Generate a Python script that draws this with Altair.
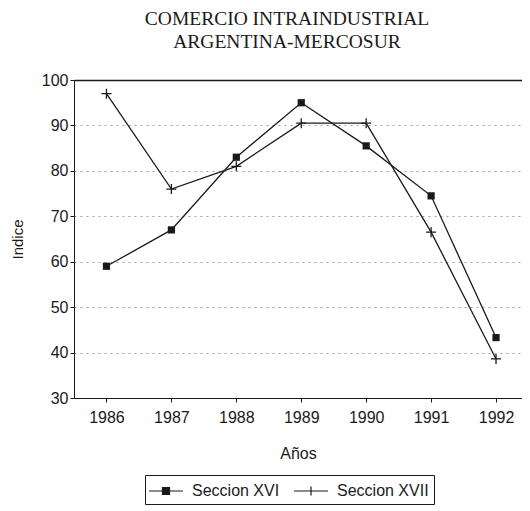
import altair as alt
import pandas as pd

years = [1986, 1987, 1988, 1989, 1990, 1991, 1992]
seccion_xvi = [59, 67, 83, 95, 85.5, 74.5, 43.3]
seccion_xvii = [97, 76, 81, 90.5, 90.5, 66.5, 38.6]
series_names = ["Seccion XVI", "Seccion XVII"]
y_ticks = [30, 40, 50, 60, 70, 80, 90, 100]

rows = []
for name, vals in zip(series_names, [seccion_xvi, seccion_xvii]):
    for yr, v in zip(years, vals):
        rows.append({"anio": yr, "indice": v, "serie": name})
df = pd.DataFrame(rows)

INK = "#1a1a1a"
SQUARE = "M-1,-1H1V1H-1Z"
PLUS = "M-1,0H1M0,-1V1"
HATCH = "".join(f"M-0.35,{v:.2f}H0.35" for v in [-0.3, -0.2, -0.1, 0.0, 0.1, 0.2, 0.3])
LEG_SQUARE = "M-1.7,0H1.7M-0.35,-0.35H0.35V0.35H-0.35Z" + HATCH
LEG_PLUS = "M-1.7,0H1.7M0,-0.45V0.45"

x = alt.X("anio:Q", title="Años",
          scale=alt.Scale(domain=[1985.5, 1992.4], nice=False, zero=False),
          axis=alt.Axis(values=years, format="d", grid=False, tickSize=4,
                        tickColor=INK, domainColor=INK, labelColor=INK,
                        titleColor=INK, labelFont="Liberation Sans",
                        titleFont="Liberation Sans", labelFontSize=16,
                        titleFontSize=16, titleFontWeight="normal",
                        labelPadding=7, titlePadding=20))
y = alt.Y("indice:Q", title="Indice",
          scale=alt.Scale(domain=[30, 100], nice=False, zero=False),
          axis=alt.Axis(values=y_ticks, grid=True, tickSize=4,
                        gridColor={"condition": {"test": "datum.value === 100", "value": INK}, "value": "#888888"},
                        gridDash={"condition": {"test": "datum.value === 100", "value": []}, "value": [2, 4]},
                        gridWidth={"condition": {"test": "datum.value === 100", "value": 1.4}, "value": 0.8},
                        tickColor=INK, domainColor=INK, labelColor=INK,
                        titleColor=INK, labelFont="Liberation Sans",
                        titleFont="Liberation Sans", labelFontSize=16,
                        titleFontSize=15, titleFontWeight="normal",
                        labelPadding=2, titlePadding=16))

base = alt.Chart(df)

lines = base.mark_line(color=INK, strokeWidth=1.3).encode(x=x, y=y, detail="serie:N")

pts16 = base.transform_filter(alt.datum.serie == series_names[0]).mark_point(
    shape=SQUARE, filled=True, color=INK, size=52, opacity=1).encode(x=x, y=y)
pts17 = base.transform_filter(alt.datum.serie == series_names[1]).mark_point(
    shape=PLUS, filled=False, color=INK, size=100, strokeWidth=1.3, opacity=1).encode(x=x, y=y)

legend_layer = base.transform_filter("false").mark_point(
    filled=False, color=INK, strokeWidth=1.2, opacity=1).encode(
    x=x, y=y,
    shape=alt.Shape("serie:N",
                    scale=alt.Scale(domain=series_names, range=[LEG_SQUARE, LEG_PLUS]),
                    legend=alt.Legend(title=None, orient="none", direction="horizontal",
                                      legendX=71, legendY=395,
                                      symbolSize=400, symbolStrokeWidth=1.2,
                                      symbolStrokeColor=INK,
                                      labelFont="Liberation Sans", labelFontSize=16,
                                      labelColor=INK, strokeColor=INK, padding=5,
                                      columnPadding=11, symbolOffset=5,
                                      labelOffset=15)))

chart = alt.layer(lines, pts16, pts17, legend_layer).properties(
    width=448, height=318,
    padding={"left": 2, "right": 0, "top": 0, "bottom": 0},
    title=alt.Title(["COMERCIO INTRAINDUSTRIAL", "ARGENTINA-MERCOSUR"],
                    font="Liberation Serif", fontSize=19.5, fontWeight="normal",
                    color=INK, anchor="middle", offset=20, lineHeight=23, dx=-11),
).configure_view(stroke=None).configure(background="white")

chart.save("out.html", embed_options={"renderer": "svg", "actions": False})
